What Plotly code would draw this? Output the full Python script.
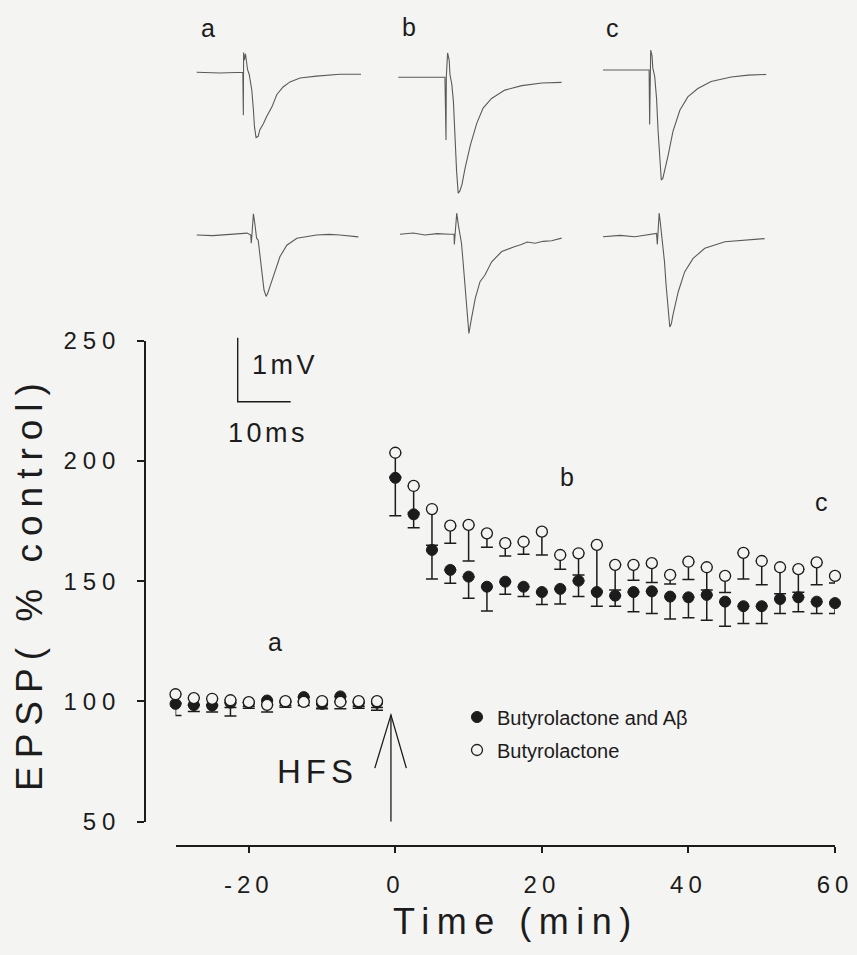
import plotly.graph_objects as go

W, H = 857, 955
BG = "#f4f4f2"
INK = "#1c1c1c"
TRACE_INK = "#5a5a5a"
FONT = "Liberation Sans, Arial, sans-serif"

# ---------------- summary data (EPSP % control) ----------------
time_pre = [-30, -27.5, -25, -22.5, -20, -17.5, -15, -12.5, -10, -7.5, -5, -2.5]
time_post = [0, 2.5, 5, 7.5, 10, 12.5, 15, 17.5, 20, 22.5, 25, 27.5, 30,
             32.5, 35, 37.5, 40, 42.5, 45, 47.5, 50, 52.5, 55, 57.5, 60]

abeta_pre = [99.0, 98.5, 98.3, 99.5, 99.5, 100.4, 99.8, 101.8, 99.0, 102.1, 99.5, 99.5]
abeta_pre_err = [4.8, 2.7, 2.7, 2.0, 1.5, 2.0, 1.5, 1.5, 2.0, 2.0, 1.5, 2.0]
abeta_post = [193.0, 177.8, 163.0, 154.7, 151.9, 147.7, 149.8, 147.7, 145.5, 146.8,
              150.2, 145.5, 144.0, 145.5, 145.8, 143.6, 143.3, 144.3, 141.5, 139.6,
              139.6, 142.6, 143.3, 141.5, 140.9]
abeta_post_err = [15.8, 5.6, 12.1, 5.6, 9.0, 10.1, 5.2, 4.1, 5.2, 6.3, 6.6, 5.9, 4.4,
                  8.2, 9.2, 9.3, 8.5, 10.5, 10.2, 7.2, 7.2, 6.0, 6.0, 4.9, 4.3]

buty_pre = [103.0, 101.4, 101.1, 100.5, 99.7, 98.6, 100.1, 99.8, 100.1, 99.8, 100.1, 100.1]
buty_pre_err = [3.5, 3.0, 2.5, 6.5, 2.5, 3.0, 2.5, 1.5, 2.9, 2.8, 2.9, 3.8]
buty_post = [203.4, 189.6, 180.0, 173.1, 173.4, 169.9, 165.8, 166.4, 170.6, 160.9,
             161.6, 165.1, 156.8, 156.8, 157.5, 152.6, 158.1, 155.8, 152.2, 161.8,
             158.4, 155.8, 155.0, 157.8, 152.2]
buty_post_err = [10.0, 11.0, 15.0, 7.3, 15.0, 5.8, 5.3, 5.2, 9.7, 5.9, 9.0, 19.2, 10.5,
                 6.4, 8.0, 3.8, 7.4, 9.5, 6.9, 10.9, 9.9, 11.0, 9.6, 9.3, 3.0]

x_ticks = [-20, 0, 20, 40, 60]
y_ticks = [50, 100, 150, 200, 250]

# ---------------- sample EPSP traces (time ms, voltage mV) ----------------
trace_a1_t = [0, 4.4, 8.7, 8.8, 8.85, 9.0, 9.2, 9.6, 9.9, 10.4, 10.7, 10.9, 11.2, 11.6,
              11.9, 12.6, 13.2, 14.2, 15.1, 16.3, 17.6, 19.5, 22.6, 27.0, 31.0]
trace_a1_v = [0, -0.01, 0, -0.67, 0.31, 0.19, 0.29, 0.04, -0.03, -0.28, -0.59, -0.85,
              -1.02, -1.0, -0.9, -0.8, -0.69, -0.54, -0.35, -0.23, -0.15, -0.09,
              -0.06, -0.03, -0.03]
trace_a2_t = [0, 3.0, 6.3, 9.5, 10.2, 10.3, 10.4, 10.7, 11.0, 11.3, 11.6, 11.9, 12.3,
              12.7, 13.1, 13.4, 13.8, 14.8, 15.7, 17.0, 18.9, 22.6, 25.0, 27.0, 30.5]
trace_a2_v = [0, -0.01, 0.01, 0.03, 0, -0.13, -0.02, 0.33, 0.16, -0.05, -0.08, -0.31,
              -0.63, -0.86, -0.96, -0.91, -0.81, -0.55, -0.34, -0.16, -0.05, 0, 0.01,
              0, -0.03]
trace_b1_t = [0, 4.1, 8.8, 9.0, 9.06, 9.3, 9.6, 9.75, 10.1, 10.4, 10.7, 11.0, 11.3,
              11.6, 12.0, 12.6, 13.6, 14.8, 16.0, 17.6, 20.1, 23.3, 27.1, 30.8]
trace_b1_v = [0, 0, 0, -0.98, 0, 0.38, 0.27, 0.04, -0.11, -0.38, -0.95, -1.47, -1.81,
              -1.78, -1.68, -1.42, -1.06, -0.72, -0.48, -0.33, -0.2, -0.13, -0.09, -0.08]
trace_b2_t = [0, 2.5, 4.7, 7.0, 9.4, 10.2, 10.25, 10.4, 10.7, 11.0, 11.3, 11.6, 11.9,
              12.4, 12.8, 13.0, 13.5, 14.2, 15.1, 16.0, 17.3, 19.2, 21.7, 22.9, 24.0,
              25.5, 27.0, 28.6, 30.5]
trace_b2_v = [0, 0.02, -0.01, 0.01, 0, 0, -0.16, -0.03, 0.33, 0.15, -0.01, -0.14, -0.43,
              -0.95, -1.37, -1.55, -1.31, -1.0, -0.74, -0.64, -0.43, -0.27, -0.19, -0.16,
              -0.12, -0.14, -0.11, -0.1, -0.06]
trace_c1_t = [0, 4.2, 8.7, 8.8, 8.9, 9.0, 9.25, 9.4, 9.75, 10.1, 10.4, 10.7, 11.0, 11.3,
              11.6, 12.3, 13.2, 14.5, 16.0, 17.9, 20.4, 24.2, 27.4, 30.8]
trace_c1_v = [0, 0, 0, -0.85, 0, 0.31, 0.22, 0.03, -0.10, -0.44, -0.96, -1.43, -1.72,
              -1.69, -1.59, -1.33, -0.96, -0.63, -0.42, -0.29, -0.18, -0.11, -0.08, -0.07]
trace_c2_t = [0, 3.2, 6.0, 8.7, 10.1, 10.25, 10.4, 10.6, 10.8, 11.0, 11.3, 11.6, 11.9,
              12.3, 12.6, 12.9, 13.2, 14.2, 15.4, 17.0, 19.2, 23.0, 26.7, 30.5]
trace_c2_v = [0, 0.02, 0, 0.04, 0.05, -0.12, 0.03, 0.37, 0.23, 0.08, -0.08, -0.39, -0.75,
              -1.17, -1.41, -1.36, -1.22, -0.86, -0.55, -0.34, -0.18, -0.08, -0.05, -0.03]

scale_ms = 10
scale_mv = 1


def sp(text, ls):
    return '<span style="letter-spacing:%spx">%s</span>' % (ls, text)


def xd(p0, p1):
    return [p0 / W, p1 / W]


def yd(top, bottom):
    return [1 - bottom / H, 1 - top / H]


fig = go.Figure()

# main scatter with downward error bars
time_all = time_pre + time_post
fig.add_trace(go.Scatter(
    x=time_all, y=abeta_pre + abeta_post, mode="markers",
    name="Butyrolactone and A\u03b2", legendgroup="f",
    marker=dict(symbol="circle", size=11, color=INK, line=dict(color=INK, width=1)),
    error_y=dict(type="data", symmetric=False, array=[0] * len(time_all),
                 arrayminus=abeta_pre_err + abeta_post_err,
                 color=INK, thickness=1.5, width=6),
    cliponaxis=False, xaxis="x", yaxis="y"))
fig.add_trace(go.Scatter(
    x=time_all, y=buty_pre + buty_post, mode="markers",
    name="Butyrolactone", legendgroup="o",
    marker=dict(symbol="circle", size=11, color=BG, line=dict(color=INK, width=1.3)),
    error_y=dict(type="data", symmetric=False, array=[0] * len(time_all),
                 arrayminus=buty_pre_err + buty_post_err,
                 color=INK, thickness=1.5, width=6),
    cliponaxis=False, xaxis="x", yaxis="y"))

# sample traces panels: (t, v, left px of t=0, baseline px, mV range)
MS_PX, MV_PX = 5.3, 64.0
panels = [
    (trace_a1_t, trace_a1_v, 196.7, 72.3, [-1.95, 0.45]),
    (trace_b1_t, trace_b1_v, 398.3, 77.3, [-1.95, 0.45]),
    (trace_c1_t, trace_c1_v, 603.0, 70.0, [-1.95, 0.45]),
    (trace_a2_t, trace_a2_v, 196.7, 235.0, [-1.65, 0.45]),
    (trace_b2_t, trace_b2_v, 400.0, 234.3, [-1.65, 0.45]),
    (trace_c2_t, trace_c2_v, 603.0, 236.7, [-1.65, 0.45]),
]
layout_axes = {}
for i, (tt, vv, left, base, yr) in enumerate(panels):
    n = i + 2
    xr = [-0.5, 31.5]
    layout_axes["xaxis%d" % n] = dict(
        domain=xd(left + xr[0] * MS_PX, left + xr[1] * MS_PX), range=xr,
        anchor="y%d" % n, visible=False, fixedrange=True, automargin=False)
    layout_axes["yaxis%d" % n] = dict(
        domain=yd(base - yr[1] * MV_PX, base - yr[0] * MV_PX), range=yr,
        anchor="x%d" % n, visible=False, fixedrange=True, automargin=False)
    fig.add_trace(go.Scatter(x=tt, y=vv, mode="lines", showlegend=False,
                             line=dict(color=TRACE_INK, width=1.1),
                             xaxis="x%d" % n, yaxis="y%d" % n, hoverinfo="skip"))

# scale bar (1 mV, 10 ms)
sb_left, sb_base = 237.7, 401.7
layout_axes["xaxis8"] = dict(domain=xd(sb_left - 1 * MS_PX, sb_left + 11 * MS_PX),
                             range=[-1, 11], anchor="y8", visible=False, automargin=False)
layout_axes["yaxis8"] = dict(domain=yd(sb_base - 1.1 * MV_PX, sb_base + 0.1 * MV_PX),
                             range=[-0.1, 1.1], anchor="x8", visible=False, automargin=False)
fig.add_trace(go.Scatter(x=[0, 0, scale_ms], y=[scale_mv, 0, 0], mode="lines",
                         showlegend=False, line=dict(color=INK, width=1.4),
                         cliponaxis=False, xaxis="x8", yaxis="y8", hoverinfo="skip"))

tickfont = dict(size=24, family=FONT, color=INK)
fig.update_layout(
    template="none",
    width=W, height=H,
    margin=dict(l=0, r=0, t=0, b=0, autoexpand=False),
    paper_bgcolor=BG, plot_bgcolor="rgba(0,0,0,0)",
    font=dict(family=FONT, color=INK),
    showlegend=True,
    legend=dict(x=457 / W, y=1 - 697.5 / H, xanchor="left", yanchor="top",
                bgcolor="rgba(0,0,0,0)", font=dict(size=20, family=FONT, color=INK),
                tracegroupgap=4),
    xaxis=dict(domain=xd(175.5, 835), range=[-30, 60], anchor="free",
               position=1 - 846 / H, showline=True, linecolor=INK, linewidth=2,
               ticks="outside", ticklen=6, tickwidth=1.5, tickcolor=INK,
               tickvals=x_ticks, ticktext=[sp(str(v), 5) for v in x_ticks],
               tickfont=tickfont, ticklabelstandoff=11, automargin=False,
               showgrid=False, zeroline=False, fixedrange=True),
    yaxis=dict(domain=yd(340.7, 821.7), range=[50, 250], anchor="free",
               position=145 / W, showline=True, linecolor=INK, linewidth=1.5,
               ticks="outside", ticklen=7, tickwidth=1.5, tickcolor=INK,
               tickvals=y_ticks, ticktext=[sp(str(v), 6) for v in y_ticks],
               tickfont=tickfont, ticklabelstandoff=11, automargin=False,
               showgrid=False, zeroline=False, fixedrange=True),
    **layout_axes,
)

# HFS arrow at stimulation time
hfs_x = -0.6
fig.add_shape(type="line", xref="x", yref="y", x0=hfs_x, x1=hfs_x, y0=50, y1=94.4,
              line=dict(color=INK, width=1.3))
fig.add_shape(type="path", xref="x", yref="y",
              path="M %s,72.3 L %s,94.4 L %s,72.3" % (hfs_x - 2.2, hfs_x, hfs_x + 2.1),
              line=dict(color=INK, width=1.3))


def label(text, x, y, size, xref="paper", yref="paper", angle=0):
    return dict(text=text, x=x, y=y, xref=xref, yref=yref, showarrow=False,
                xanchor="center", yanchor="middle", textangle=angle,
                font=dict(size=size, family=FONT, color=INK))


ann = []
# axis titles
ann.append(label(sp("Time (min)", 7.5), (512 + 3.7) / W, 1 - 921 / H, 36))
ann.append(label(sp("EPSP( % control)", 8), 29 / W, 1 - (587 - 4) / H, 37, angle=-90))
# HFS label
ann.append(label(sp("HFS", 5), -11.0 + 2.5 / 7.33, 70.7, 33, "x", "y"))
# time-point labels in plot
for lab, tx, ty in [("a", -16.4, 124.9), ("b", 23.4, 193.3), ("c", 58.1, 182.9)]:
    ann.append(label(lab, tx, ty, 25, "x", "y"))
# trace labels
for lab, px, py in [("a", 208, 28), ("b", 409, 27), ("c", 612, 28)]:
    ann.append(label(lab, px / W, 1 - py / H, 25))
# scale bar labels
ann.append(label(sp("1mV", 3.5), (283 + 1.7) / W, 1 - 365 / H, 27))
ann.append(label(sp("10ms", 3.5), (266 + 1.7) / W, 1 - 433 / H, 27))
fig.update_layout(annotations=ann)

fig.write_html("out.html")
